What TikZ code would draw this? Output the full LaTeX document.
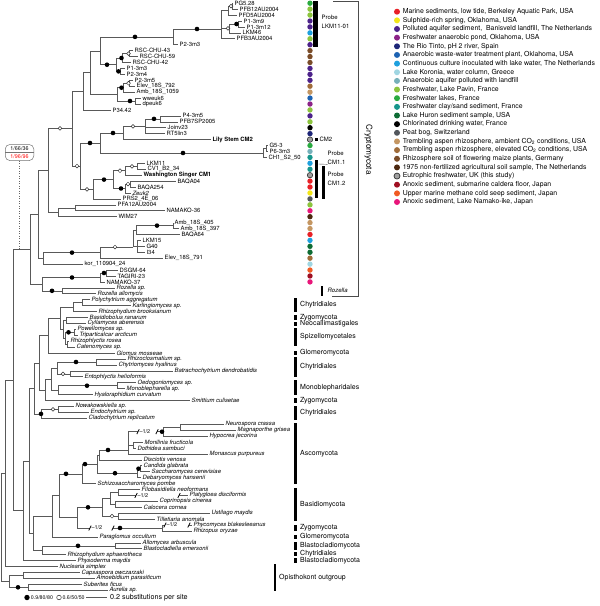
\documentclass[tikz,border=0pt]{standalone}
\usepackage{fontspec}
\setmainfont{TeX Gyre Heros}
\usetikzlibrary{positioning}

\definecolor{cRed}{RGB}{232,33,39}
\definecolor{cYel}{RGB}{243,230,25}
\definecolor{cPur}{RGB}{76,34,138}
\definecolor{cMag}{RGB}{140,35,135}
\definecolor{cNav}{RGB}{30,38,120}
\definecolor{cBlu}{RGB}{28,98,178}
\definecolor{cLbl}{RGB}{30,160,222}
\definecolor{cPcy}{RGB}{160,214,226}
\definecolor{cGte}{RGB}{118,176,186}
\definecolor{cYgr}{RGB}{140,196,62}
\definecolor{cGrn}{RGB}{42,170,64}
\definecolor{cTea}{RGB}{22,150,140}
\definecolor{cDgr}{RGB}{14,108,52}
\definecolor{cBlk}{RGB}{0,0,0}
\definecolor{cGry}{RGB}{82,86,92}
\definecolor{cTan}{RGB}{196,150,98}
\definecolor{cBrn}{RGB}{160,108,58}
\definecolor{cRbr}{RGB}{122,76,40}
\definecolor{cDbr}{RGB}{76,40,16}
\definecolor{cEut}{RGB}{160,160,160}
\definecolor{cDrd}{RGB}{160,16,34}
\definecolor{cOra}{RGB}{240,90,34}
\definecolor{cPnk}{RGB}{232,22,122}

\tikzset{
  branch/.style={draw=black!65, line width=0.6pt},
  taxon/.style={anchor=west, inner xsep=1.4pt, inner ysep=0pt, font=\fontsize{5.9}{6}\selectfont\itshape},
  clone/.style={taxon, font=\fontsize{5.9}{6}\selectfont},
  ours/.style={taxon, font=\fontsize{5.9}{6}\selectfont\bfseries},
  supB/.style={circle, fill=black, inner sep=0pt, minimum size=4.6pt},
  supW/.style={circle, draw=black!80, fill=white, line width=0.5pt, inner sep=0pt, minimum size=3.8pt},
  site/.style={circle, inner sep=0pt, minimum size=5.4pt},
  legdot/.style={circle, inner sep=0pt, minimum size=6pt},
  legtxt/.style={anchor=west, inner sep=0pt, font=\fontsize{6.9}{7}\selectfont},
  grp/.style={anchor=west, inner sep=0pt, font=\fontsize{7}{7}\selectfont},
  cladebar/.style={line width=2.4pt},
  probe/.style={anchor=west, inner sep=0pt, align=left, font=\fontsize{6}{8.8}\selectfont},
  brk/.style={line width=0.8pt},
  half/.style={inner sep=0pt, font=\fontsize{5.5}{6}\selectfont},
  boxtxt/.style={inner sep=0pt, font=\fontsize{5.4}{6}\selectfont},
  foot/.style={inner sep=0pt, font=\fontsize{5.3}{6}\selectfont},
}

\begin{document}
\begin{tikzpicture}[x=1pt,y=-1pt]
\useasboundingbox (0,0) rectangle (600,606);

% taxa
\foreach \i/\x/\sty/\lab in {
  0/233/clone/PG5.28, 1/238/clone/PFB12AU2004, 2/237/clone/PFD5AU2004,
  3/242/clone/P1-3m9, 4/245/clone/P1-3m12, 5/241/clone/LKM46,
  6/235/clone/PFB3AU2004, 7/178/clone/P2-3m3, 8/133/clone/RSC-CHU-43,
  9/138/clone/RSC-CHU-59, 10/131/clone/RSC-CHU-42, 11/125/clone/P1-3m3,
  12/125/clone/P2-3m4, 13/133/clone/P2-3m5, 14/135/clone/Elev\_18S\_792,
  15/135/clone/Amb\_18S\_1059, 16/141/clone/wweuk6, 17/141/clone/dpeuk6,
  18/111/clone/P34.42, 19/181/clone/P4-3m5, 20/178/clone/PFB7SP2005,
  21/166/clone/Joinv23, 22/165/clone/RT5lin3, 23/211/ours/Lily Stem CM2,
  24/268/clone/G5-3, 25/268/clone/P6-3m3, 26/267/clone/CH1\_S2\_50,
  27/145/clone/LKM11, 28/146/clone/CV1\_B2\_34, 29/142/ours/Washington Singer CM1,
  30/176/clone/BAQA04, 31/136/clone/BAQA254, 32/131/taxon/Zeuk2,
  33/121/clone/PRS2\_4E\_06, 34/116/clone/PFA12AU2004, 35/165/clone/NAMAKO-36,
  36/117/clone/WIM27, 37/173/clone/Amb\_18S\_405, 38/179/clone/Amb\_18S\_397,
  39/180/clone/BAQA64, 40/141/clone/LKM15, 41/145/clone/G40,
  42/145/clone/I34, 43/163/clone/Elev\_18S\_791, 44/83/clone/kor\_110904\_24,
  45/118/clone/DSGM-64, 46/116/clone/TAGIRI-23, 47/105/clone/NAMAKO-37,
  48/115/taxon/Rozella sp., 49/96/taxon/Rozella allomycis,
  50/90/taxon/Polychytrium aggregatum, 51/131/taxon/Karlingiomyces sp.,
  52/97/taxon/Rhizophydium brooksianum, 53/88/taxon/Basidiobolus ranarum,
  54/86/taxon/Cyllamyces aberensis, 55/76/taxon/Powellomyces sp.,
  56/78/taxon/Triparticalcar arcticum, 57/69/taxon/Rhizophlyctis rosea,
  58/75/taxon/Catenomyces sp., 59/115/taxon/Glomus mosseae,
  60/126/taxon/Rhizoclosmatium sp., 61/117/taxon/Chytriomyces hyalinus,
  62/173/taxon/Batrachochytrium dendrobatidis, 63/83/taxon/Entophlyctis helioformis,
  64/136/taxon/Oedogoniomyces sp., 65/125/taxon/Monoblepharella sp.,
  66/93/taxon/Hyaloraphidium curvatum, 67/190/taxon/Smittium culisetae,
  68/74/taxon/Nowakowskiella sp., 69/89/taxon/Endochytrium sp.,
  70/87/taxon/Cladochytrium replicatum, 71/224/taxon/Neurospora crassa,
  72/236/taxon/Magnaporthe grisea, 73/208/taxon/Hypocrea jecorina,
  74/143/taxon/Monilinia fructicola, 75/136/taxon/Dothidea sambuci,
  76/208/taxon/Monascus purpureus, 77/142/taxon/Disciotis venosa,
  78/142/taxon/Candida glabrata, 79/150/taxon/Saccharomyces cerevisiae,
  80/141/taxon/Debaryomyces hansenii, 81/96/taxon/Schizosaccharomyces pombe,
  82/140/taxon/Filobasidiella neoformans, 83/188/taxon/Platygloea disciformis,
  84/158/taxon/Coprinopsis cinerea, 85/142/taxon/Calocera cornea,
  86/210/taxon/Ustilago maydis, 87/155/taxon/Tilletiaria anomala,
  88/192/taxon/Phycomyces blakesleeanus, 89/192/taxon/Rhizopus oryzae,
  90/98/taxon/Paraglomus occultum, 91/141/taxon/Allomyces arbuscula,
  92/142/taxon/Blastocladiella emersonii, 93/66/taxon/Rhizophydium sphaerotheca,
  94/76/taxon/Physoderma maydis, 95/58/taxon/Nuclearia simplex,
  96/80/taxon/Capsaspora owczarzaki, 97/95/taxon/Amoebidium parasiticum,
  98/82/taxon/Suberites ficus, 99/108/taxon/Aurelia sp.}
  \node[\sty] (L\i) at (\x,{3.2+5.93*\i}) {\lab};

% internal nodes
\foreach \n/\x/\y in {
  pgA/232/6.15, pgB/228/10.6, p13/238/24, p13b/229/28.4, lkmTop/221/29,
  lkmCl/173/36.9, rscA/129.5/53.6, rscB/122.5/58, p13m/120/71.4, rscC/116/64.7,
  grpA/100/50.8, elvA/129.5/83.2, elvB/123/87.7, weuk/135/101, elvC/117/94.4,
  grpB/90/72.6, grpC/83/91.3, p4/160/118.9, joinA/145/126.3, lilyA/123/133,
  g5A/266/148.5, g5B/263/153, lilyB/100/143, lkA/137/166.3, lkB/125/170.7,
  bqA/130/184, bqB/125/188.5, cmA/113/179.6, cmB/93/189.3, cmC/80/166,
  grpD/72/128.4, namA/75/207.8, namB/58/212.3, grpE/48/170.4,
  ambA/173/225.6, ambB/136/230, lk15/137/246.3, ambC/133/247, ambD/100/252.6,
  korA/43/258.4, cryA/38/214.4, dsA/106/273, dsB/100/277.5, rozA/62/290.8,
  rozB/42/284, cryB/30/249.2,
  polA/82/302.6, polB/73/307.1, basA/66.7/320.5, powA/74/332.3, rhzA/67/344.2,
  spzA/65/338.3, chyA/63/329.4, chyB/60/318.3, chyC/48/335.7, rcA/96/362,
  btA/70/373.9, rcB/57/368, monA/117/385.7, monB/58/390.2, rcC/51/379.1,
  smA/45/389.8, chyD/39/362.8, nowA/58/409.4, nowB/41/413.9, chyE/34/388.4,
  neuA/180/427.2, hypA/163/431.7, molA/133.3/445, pezA/128.3/450, pezB/99/454.9,
  sacA/140/468.7, sacB/137/473.2, ascA/97/464.1, ascB/82/473.8,
  filA/118/492.5, copA/115/504.3, filB/110/498.4, ustA/118/516.2, basB/102/507.3,
  zygA/162/528, dikA/77/517.6, dikB/59/495.7, parA/52/516.3,
  blaA/115/545.8, blaB/42/550.2, fgA/33/533.3, fgB/29/460.9, fgC/23/510.7,
  fgD/13/380, fgE/5/473.3, capA/23/575.5, subA/28/587.3, outA/9/581.4, root/1.5/527,
  hyBrA/138/431.7, hyBrB/157/431.7, pgBrA/136/495.4, pgBrB/179/495.4,
  zyBrA/90/528, zyBrB/113/528, phBrA/165/525, phBrB/189/525}
  \coordinate (\n) at (\x,\y);

% branches
\foreach \p/\ch in {
  pgA/L0, pgA/L1, pgB/pgA, pgB/L2, p13/L3, p13/L4, p13b/p13, p13b/L5,
  lkmTop/pgB, lkmTop/p13b, lkmTop/L6, lkmCl/lkmTop, lkmCl/L7,
  rscA/L8, rscA/L9, rscB/rscA, rscB/L10, p13m/L11, p13m/L12, rscC/rscB, rscC/p13m,
  grpA/lkmCl, grpA/rscC, elvA/L13, elvA/L14, elvB/elvA, elvB/L15,
  weuk/L16, weuk/L17, elvC/elvB, elvC/weuk, grpB/grpA, grpB/elvC, grpC/grpB, grpC/L18,
  p4/L19, p4/L20, joinA/p4, joinA/L21, joinA/L22, lilyA/joinA, lilyA/L23,
  g5A/L24, g5A/L25, g5B/g5A, g5B/L26, lilyB/lilyA, lilyB/g5B,
  lkA/L27, lkA/L28, lkB/lkA, lkB/L29, bqA/L30, bqA/L31, bqB/bqA, bqB/L32,
  cmA/lkB, cmA/bqB, cmB/cmA, cmB/L33, cmC/lilyB, cmC/cmB, grpD/grpC, grpD/cmC,
  namA/L34, namA/L35, namB/namA, namB/L36, grpE/grpD, grpE/namB,
  ambA/L37, ambA/L38, ambB/ambA, ambB/L39, lk15/L40, lk15/L41, lk15/L42,
  ambC/ambB, ambC/lk15, ambD/ambC, ambD/L43, korA/ambD, korA/L44,
  cryA/grpE, cryA/korA, dsA/L45, dsA/L46, dsB/dsA, dsB/L47,
  rozA/L48, rozA/L49, rozB/dsB, rozB/rozA, cryB/cryA, cryB/rozB,
  polA/L50, polA/L51, polB/polA, polB/L52, basA/L53, basA/L54,
  powA/L55, powA/L56, rhzA/L57, rhzA/L58, spzA/powA, spzA/rhzA,
  chyA/basA, chyA/spzA, chyB/polB, chyB/chyA, chyC/chyB, chyC/L59,
  rcA/L60, rcA/L61, btA/L62, btA/L63, rcB/rcA, rcB/btA,
  monA/L64, monA/L65, monB/monA, monB/L66, rcC/rcB, rcC/monB, smA/rcC, smA/L67,
  chyD/chyC, chyD/smA, nowA/L68, nowA/L69, nowB/nowA, nowB/L70, chyE/chyD, chyE/nowB,
  neuA/L71, neuA/L72, hypA/neuA, hypA/L73, molA/L74, molA/L75,
  pezA/hyBrA, hyBrB/hypA, pezA/molA, pezA/L76, pezB/pezA, pezB/L77,
  sacA/L78, sacA/L79, sacB/sacA, sacB/L80, ascA/pezB, ascA/sacB, ascB/ascA, ascB/L81,
  filA/L82, filA/pgBrA, pgBrB/L83, copA/L84, copA/L85, filB/filA, filB/copA,
  ustA/L86, ustA/L87, basB/filB, basB/ustA, zygA/phBrA, phBrB/L88, zygA/L89,
  dikA/basB, dikA/zyBrA, zyBrB/zygA, dikB/ascB, dikB/dikA, parA/dikB, parA/L90,
  blaA/L91, blaA/L92, blaB/blaA, blaB/L93, fgA/parA, fgA/blaB,
  fgB/chyE, fgB/fgA, fgC/fgB, fgC/L94, fgD/cryB, fgD/fgC, fgE/fgD, fgE/L95,
  capA/L96, capA/L97, subA/L98, subA/L99, outA/capA, outA/subA, root/fgE, root/outA}
  \draw[branch] (\p) |- (\ch);

% shortened branches
\foreach \bk in {hyBrA,hyBrB,pgBrA,pgBrB,zyBrA,zyBrB,phBrA,phBrB}
  \draw[brk] ([shift={(-1.2,2.4)}]\bk) -- ([shift={(1.2,-2.4)}]\bk);
\foreach \bk/\nm in {hyBrA/hyH, pgBrA/pgH, zyBrA/zyH, phBrA/phH}
  \node[half, right=1.4pt of \bk] (\nm) {--1/2};

% support values
\foreach \x/\y [count=\k] in {197/29, 236.5/24, 135/36.9, 121.5/58, 118.5/71.4,
  107/64.7, 121.5/87.7, 130/101, 154/118.9, 113/133, 183/153, 90/143, 104/179.6,
  121/188.5, 157/225.6, 72/252.6, 104/273, 72/277.5, 52/290.8, 68.5/332.3, 76/362,
  87/385.7, 41/413.9, 162/431.7, 108/450, 138.5/468.7, 115/473.2, 85/464.1,
  66/473.8, 88/507.3, 120/528, 78/545.8, 18/587.3}
  \node[supB] (sb\k) at (\x,\y) {};
\foreach \x/\y [count=\k] in {231/6.15, 228/28.4, 128.5/53.6, 128.5/83.2, 60/128.4,
  133/126.3, 77/166, 87/189.3, 132/166.3, 120/170.7, 128/184, 115/247,
  63/373.9, 53/409.4, 112/516.2}
  \node[supW] (sw\k) at (\x,\y) {};

% node label of the Cryptomycota
\node[draw=black!55, rounded corners=4.5pt, minimum width=28.5pt, minimum height=16pt,
  inner sep=0pt, line width=0.5pt] (bsBox) at (19.5,152.5) {};
\node[boxtxt] (bsA) at (19.5,148.6) {1/66/36};
\node[boxtxt, text=red] (bsB) at (19.5,156.3) {1/96/96};
\draw[black!55, line width=0.4pt] (bsBox.west) -- (bsBox.east);
\coordinate (bsFoot) at (19.5,249.2);
\draw[black!60, dotted, line width=0.5pt] (bsBox.south) -- (bsFoot);

% environment of each clone
\foreach \col [count=\i from 0] in {cGrn, cYgr, cYgr, cPur, cPur, cLbl, cYgr, cPur,
  cRbr, cRbr, cRbr, cPur, cPur, cPur, cBrn, cTan, cBlu, cMag, cYgr, cPur, cYgr,
  cBlk, cNav, cEut, cGrn, cGte, cTea, cLbl, cTea, cEut, cRed, cRed, cYel, cGry,
  cYgr, cPnk, cDbr, cTan, cTan, cRed, cLbl, cDgr, cDgr, cBrn, cPcy, cOra, cDrd, cPnk}
  \node[site, fill=\col] (D\i) at (310,{3.2+5.93*\i}) {};
\node[site, fill=cEut, draw=black!80, line width=0.6pt] (D23e) at (D23) {};
\node[site, fill=cEut, draw=black!80, line width=0.6pt] (D29e) at (D29) {};

% probes
\fill (313,1) rectangle (318,46.5);
\node[probe] (prLKM) at (321.5,21.5) {Probe\\LKM11-01};
\node[fill=black, inner sep=0pt, minimum size=3.6pt] (cm2sq) at (316.5,139.6) {};
\node[probe, right=0.8pt of cm2sq] (cm2t) {CM2};
\fill (314.5,160) rectangle (318,198);
\fill (321.5,166) rectangle (325,199);
\node[probe] (prCM11) at (327.5,157.5) {Probe\\CM1.1};
\node[probe] (prCM12) at (327.5,178.5) {Probe\\CM1.2};
\coordinate (cm11tip) at (318.5,164);
\draw[black!70, line width=0.4pt] (cm11tip) -- (prCM11.south west);
\fill (320.8,286) rectangle (323,295.5);
\node[probe, font=\fontsize{6}{7}\selectfont\itshape] (rozT) at (327.5,290.5) {Rozella};

% Cryptomycota bracket
\draw[black!70, line width=0.7pt] (333,1) -| (358,296.5) -- (332,296.5);
\node[rotate=-90, inner sep=0pt, font=\fontsize{8.2}{8}\selectfont] (cryLab) at (368.5,149.5) {Cryptomycota};

% groups
\foreach \ya/\yb/\lab [count=\k] in {298/312/Chytridiales, 315/319.5/Zygomycota,
  322/326/Neocallimastigales, 328/346/Spizellomycetales, 351/355/Glomeromycota,
  357/377/Chytridiales, 380/395/Monoblepharidales, 398/403/Zygomycota,
  406/420/Chytridiales, 423/484/Ascomycota, 488/521/Basidiomycota,
  525/531/Zygomycota, 535/539/Glomeromycota, 542/550/Blastocladiomycota,
  552/556/Chytridiales, 558/563/Blastocladiomycota}
{
  \draw[cladebar] (295.5,\ya) -- (295.5,\yb);
  \node[grp] (G\k) at (300,{(\ya+\yb)/2}) {\lab};
}
\draw[cladebar] (275,564) -- (275,591);
\node[grp] (outLab) at (279,577.7) {Opisthokont outgroup};

% legend
\foreach \col/\lab [count=\k from 0] in {
  cRed/{Marine sediments, low tide, Berkeley Aquatic Park, USA},
  cYel/{Sulphide-rich spring, Oklahoma, USA},
  cPur/{Polluted aquifer sediment,\ \ Banisveld landfill, The Netherlands},
  cMag/{Freshwater anaerobic pond, Oklahoma, USA},
  cNav/{The Rio Tinto, pH 2 river, Spain},
  cBlu/{Anaerobic waste-water treatment plant, Oklahoma, USA},
  cLbl/{Continuous culture inoculated with lake water, The Netherlands},
  cPcy/{Lake Koronia, water column, Greece},
  cGte/{Anaerobic aquifer polluted with landfill},
  cYgr/{Freshwater, Lake Pavin, France},
  cGrn/{Freshwater lakes, France},
  cTea/{Freshwater clay/sand sediment, France},
  cDgr/{Lake Huron sediment sample, USA},
  cBlk/{Chlorinated drinking water, France},
  cGry/{Peat bog, Switzerland},
  cTan/{Trembling aspen rhizosphere, ambient CO\textsubscript{2} conditions, USA},
  cBrn/{Trembling aspen rhizosphere, elevated CO\textsubscript{2} conditions, USA},
  cRbr/{Rhizosphere soil of flowering maize plants, Germany},
  cDbr/{1975 non-fertilized agricultural soil sample, The Netherlands},
  cEut/{Eutrophic freshwater, UK (this study)},
  cDrd/{Anoxic sediment, submarine caldera floor, Japan},
  cOra/{Upper marine methane cold seep sediment, Japan},
  cPnk/{Anoxic sediment, Lake Namako-ike, Japan}}
{
  \node[legdot, fill=\col] (K\k) at (397,{11.7+8.65*\k}) {};
  \node[legtxt, right=2.4pt of K\k] (KT\k) {\lab};
}
\node[legdot, fill=cEut, draw=black!80, line width=0.7pt] (K19e) at (K19) {};

% key and scale
\node[supB, minimum size=5.4pt] (keyB) at (27,597.5) {};
\node[foot, right=0.8pt of keyB] (keyBt) {0.9/80/80};
\node[supW, minimum size=4.6pt] (keyW) at (59,597.5) {};
\node[foot, right=0.8pt of keyW] (keyWt) {0.6/50/50};
\coordinate (sbA) at (86,597.5);
\coordinate (sbB) at (107,597.5);
\draw[branch] (sbA) -- (sbB);
\node[foot, font=\fontsize{7.2}{8}\selectfont, right=3pt of sbB] (sbT) {0.2 substitutions per site};
\end{tikzpicture}
\end{document}
